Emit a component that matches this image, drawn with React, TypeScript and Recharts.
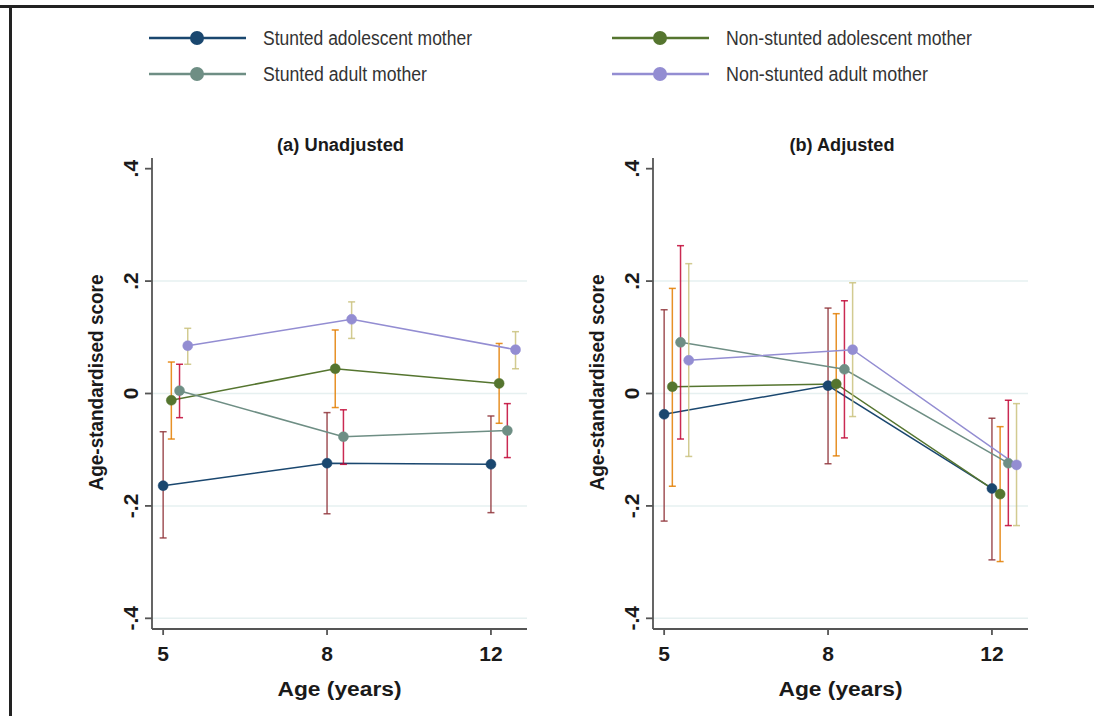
import React from 'react';
import { ComposedChart, Line, XAxis, YAxis, ErrorBar, ReferenceLine } from 'recharts';

// ---------- data ----------
const ages = ['5', '8', '12'];
const seriesNames = [
  'Stunted adolescent mother',
  'Non-stunted adolescent mother',
  'Stunted adult mother',
  'Non-stunted adult mother',
];
const yTicks = [-0.4, -0.2, 0, 0.2, 0.4];
const gridValues = [-0.4, -0.2, 0, 0.2];

// (a) Unadjusted
const unadjStuntedAdol = [-0.164, -0.124, -0.126];
const unadjStuntedAdolLo = [-0.257, -0.214, -0.212];
const unadjStuntedAdolHi = [-0.068, -0.034, -0.040];
const unadjNonStuntedAdol = [-0.012, 0.044, 0.018];
const unadjNonStuntedAdolLo = [-0.081, -0.025, -0.053];
const unadjNonStuntedAdolHi = [0.056, 0.113, 0.089];
const unadjStuntedAdult = [0.005, -0.077, -0.066];
const unadjStuntedAdultLo = [-0.043, -0.126, -0.114];
const unadjStuntedAdultHi = [0.052, -0.029, -0.018];
const unadjNonStuntedAdult = [0.085, 0.132, 0.078];
const unadjNonStuntedAdultLo = [0.052, 0.098, 0.044];
const unadjNonStuntedAdultHi = [0.116, 0.163, 0.110];

// (b) Adjusted
const adjStuntedAdol = [-0.037, 0.014, -0.169];
const adjStuntedAdolLo = [-0.227, -0.125, -0.296];
const adjStuntedAdolHi = [0.149, 0.152, -0.044];
const adjNonStuntedAdol = [0.012, 0.017, -0.179];
const adjNonStuntedAdolLo = [-0.165, -0.111, -0.299];
const adjNonStuntedAdolHi = [0.187, 0.142, -0.059];
const adjStuntedAdult = [0.091, 0.043, -0.124];
const adjStuntedAdultLo = [-0.081, -0.079, -0.235];
const adjStuntedAdultHi = [0.263, 0.165, -0.012];
const adjNonStuntedAdult = [0.059, 0.078, -0.127];
const adjNonStuntedAdultLo = [-0.112, -0.041, -0.235];
const adjNonStuntedAdultHi = [0.231, 0.197, -0.018];

// ---------- styles ----------
const FONT = "'Liberation Sans', Arial, sans-serif";
const lineColors = ['#1a476f', '#55752f', '#6e8e84', '#938dd2'];
const ciColors = ['#90353b', '#e37e00', '#c10534', '#cac27e'];
const OFFSET = 0.05;
const AXIS_COLOR = '#555555';
const GRID_COLOR = '#e6f0f0';
const TEXT_COLOR = '#1a1a1a';

type Series = { v: number[]; lo: number[]; hi: number[] };

const buildRows = (s: Series, k: number) =>
  ages.map((_, i) => ({
    x: i + k * OFFSET,
    y: s.v[i],
    err: [s.v[i] - s.lo[i], s.hi[i] - s.v[i]],
  }));

const panelA: Series[] = [
  { v: unadjStuntedAdol, lo: unadjStuntedAdolLo, hi: unadjStuntedAdolHi },
  { v: unadjNonStuntedAdol, lo: unadjNonStuntedAdolLo, hi: unadjNonStuntedAdolHi },
  { v: unadjStuntedAdult, lo: unadjStuntedAdultLo, hi: unadjStuntedAdultHi },
  { v: unadjNonStuntedAdult, lo: unadjNonStuntedAdultLo, hi: unadjNonStuntedAdultHi },
];
const panelB: Series[] = [
  { v: adjStuntedAdol, lo: adjStuntedAdolLo, hi: adjStuntedAdolHi },
  { v: adjNonStuntedAdol, lo: adjNonStuntedAdolLo, hi: adjNonStuntedAdolHi },
  { v: adjStuntedAdult, lo: adjStuntedAdultLo, hi: adjStuntedAdultHi },
  { v: adjNonStuntedAdult, lo: adjNonStuntedAdultLo, hi: adjNonStuntedAdultHi },
];

const fmtY = (v: number) => {
  if (Math.abs(v) < 1e-9) return '0';
  const s = Math.abs(v).toFixed(1).replace(/^0/, '');
  return (v < 0 ? '-' : '') + s;
};

const YTick = (props: any) => {
  const { x, y, payload } = props;
  return (
    <text
      x={x}
      y={y}
      transform={`rotate(-90 ${x} ${y})`}
      textAnchor="middle"
      fontFamily={FONT}
      fontWeight="bold"
      fontSize={21}
      fill={TEXT_COLOR}
    >
      {fmtY(payload.value)}
    </text>
  );
};

const YLabel = (props: any) => {
  const vb = props.viewBox || {};
  const bx = vb.x + vb.width - 49;
  const cy = vb.y + vb.height / 2 - 11;
  return (
    <text
      x={bx}
      y={cy}
      transform={`rotate(-90 ${bx} ${cy})`}
      textAnchor="middle"
      fontFamily={FONT}
      fontWeight="bold"
      fontSize={20}
      fill={TEXT_COLOR}
      textLength={216}
      lengthAdjust="spacingAndGlyphs"
    >
      Age-standardised score
    </text>
  );
};

const XLabel = (props: any) => {
  const vb = props.viewBox || {};
  const cx = vb.x + vb.width / 2;
  const by = vb.y + 67;
  return (
    <text
      x={cx}
      y={by}
      textAnchor="middle"
      fontFamily={FONT}
      fontWeight="bold"
      fontSize={20}
      fill={TEXT_COLOR}
      textLength={124}
      lengthAdjust="spacingAndGlyphs"
    >
      Age (years)
    </text>
  );
};

const Panel = ({ series, left }: { series: Series[]; left: number }) => (
  <div style={{ position: 'absolute', left, top: 0 }}>
    <ComposedChart
      width={547}
      height={716}
      margin={{ top: 158, right: 20, bottom: 0, left: 0 }}
    >
      <XAxis
        type="number"
        dataKey="x"
        domain={[-0.068, 2.22]}
        ticks={[0, 1, 2]}
        tickFormatter={(i: number) => ages[i]}
        allowDuplicatedCategory={false}
        height={87}
        tickSize={6}
        tickMargin={11}
        stroke={AXIS_COLOR}
        strokeWidth={1.8}
        tick={{ fontFamily: FONT, fontWeight: 'bold', fontSize: 21, fill: TEXT_COLOR }}
        label={<XLabel />}
      />
      <YAxis
        type="number"
        domain={[-0.419, 0.419]}
        ticks={yTicks}
        width={152}
        tickSize={7}
        tickMargin={7}
        stroke={AXIS_COLOR}
        strokeWidth={1.8}
        tick={<YTick />}
        label={<YLabel />}
        allowDataOverflow
      />
      {gridValues.map((g) => (
        <ReferenceLine key={g} y={g} stroke={GRID_COLOR} strokeWidth={1.5} />
      ))}
      {series.map((s, k) => (
        <Line
          key={k}
          data={buildRows(s, k)}
          dataKey="y"
          type="linear"
          stroke={lineColors[k]}
          strokeWidth={1.5}
          dot={{ r: 5, fill: lineColors[k], stroke: lineColors[k], strokeWidth: 0.5 }}
          isAnimationActive={false}
        >
          <ErrorBar
            dataKey="err"
            direction="y"
            width={3.5}
            stroke={ciColors[k]}
            strokeWidth={1.5}
            strokeOpacity={0.85}
            isAnimationActive={false}
          />
        </Line>
      ))}
    </ComposedChart>
  </div>
);

const legendWidths = [209, 246, 164, 202];

const Overlay = () => {
  const items = [
    { name: seriesNames[0], color: lineColors[0], x: 149, y: 38, w: legendWidths[0] },
    { name: seriesNames[1], color: lineColors[1], x: 612, y: 38, w: legendWidths[1] },
    { name: seriesNames[2], color: lineColors[2], x: 149, y: 74, w: legendWidths[2] },
    { name: seriesNames[3], color: lineColors[3], x: 612, y: 74, w: legendWidths[3] },
  ];
  return (
    <svg width={1094} height={160} style={{ position: 'absolute', left: 0, top: 0 }}>
      {items.map((it) => (
        <g key={it.name}>
          <line x1={it.x} y1={it.y} x2={it.x + 97} y2={it.y} stroke={it.color} strokeWidth={2.5} />
          <circle cx={it.x + 48} cy={it.y} r={7} fill={it.color} />
          <text
            x={it.x + 114}
            y={it.y + 7}
            fontFamily={FONT}
            fontSize={20}
            fill="#333333"
            textLength={it.w}
            lengthAdjust="spacingAndGlyphs"
          >
            {it.name}
          </text>
        </g>
      ))}
      <text
        x={340.5}
        y={151}
        textAnchor="middle"
        fontFamily={FONT}
        fontWeight="bold"
        fontSize={18}
        fill={TEXT_COLOR}
        textLength={127}
        lengthAdjust="spacingAndGlyphs"
      >
        (a) Unadjusted
      </text>
      <text
        x={842}
        y={151}
        textAnchor="middle"
        fontFamily={FONT}
        fontWeight="bold"
        fontSize={18}
        fill={TEXT_COLOR}
        textLength={105}
        lengthAdjust="spacingAndGlyphs"
      >
        (b) Adjusted
      </text>
    </svg>
  );
};

export default function App() {
  return (
    <div
      style={{
        position: 'absolute',
        left: 0,
        top: 0,
        width: 1094,
        height: 716,
        background: '#ffffff',
        overflow: 'hidden',
      }}
    >
      <div style={{ position: 'absolute', left: 0, top: 5, width: 1094, height: 2.5, background: '#222' }} />
      <div style={{ position: 'absolute', left: 9, top: 5, width: 2.5, height: 711, background: '#222' }} />
      <Overlay />
      <Panel series={panelA} left={0} />
      <Panel series={panelB} left={501} />
    </div>
  );
}
